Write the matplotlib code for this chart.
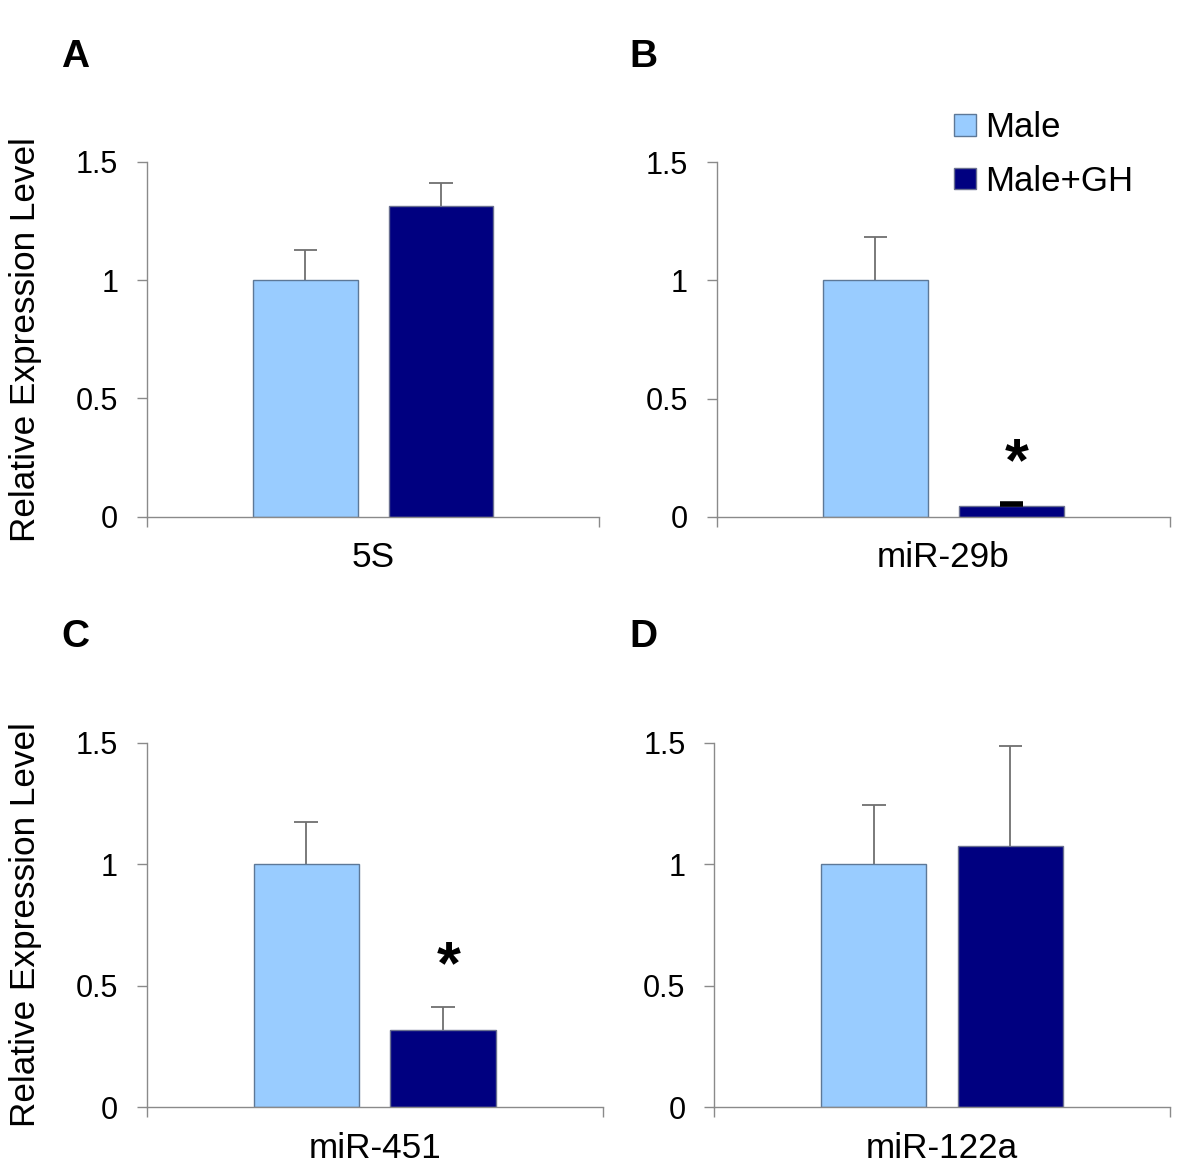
import matplotlib
matplotlib.use("Agg")
import matplotlib.pyplot as plt

plt.rcParams['font.family'] = ['Liberation Sans', 'DejaVu Sans']

# ---- data ----
panel_letters = ['A', 'B', 'C', 'D']
categories = ['5S', 'miR-29b', 'miR-451', 'miR-122a']
series_names = ['Male', 'Male+GH']
male_vals = [1.0, 1.0, 1.0, 1.0]
male_err = [0.127, 0.185, 0.172, 0.242]
gh_vals = [1.314, 0.045, 0.318, 1.074]
gh_err = [0.097, 0.008, 0.093, 0.413]
significant = [False, True, True, False]
yticks = [0, 0.5, 1, 1.5]
ytick_labels = ['0', '0.5', '1', '1.5']
ylabel = 'Relative Expression Level'

# ---- style ----
MALE_C = '#99CCFF'
GH_C = '#000080'
MALE_EDGE = '#5d7897'
GH_EDGE = '#6a7090'
AX_C = '#8a8a8a'
ERR_C = '#707070'

fig = plt.figure(figsize=(12, 11.71), dpi=100)

rects = [
    [0.1225, 0.5588, 0.3769, 0.3031],
    [0.5972, 0.5588, 0.3778, 0.3026],
    [0.1222, 0.0544, 0.3800, 0.3114],
    [0.5952, 0.0544, 0.3797, 0.3114],
]
letter_pos = [(61 / 1200, 1 - 67 / 1171), (629 / 1200, 1 - 67 / 1171),
              (61 / 1200, 1 - 647 / 1171), (629 / 1200, 1 - 647 / 1171)]

xc = 0.5
off = 0.15
bw = 0.231
cap_half = 0.026


def upper_err(ax, x, top, err, color, lw, caplw):
    ax.vlines(x, top, top + err, colors=color, linewidth=lw, zorder=1)
    ax.hlines(top + err, x - cap_half, x + cap_half, colors=color,
              linewidth=caplw, zorder=3)


handles = None
for i, r in enumerate(rects):
    ax = fig.add_axes(r)
    b1 = ax.bar(xc - off, male_vals[i], width=bw, color=MALE_C,
                edgecolor=MALE_EDGE, linewidth=1.0, zorder=2)
    b2 = ax.bar(xc + off, gh_vals[i], width=bw, color=GH_C,
                edgecolor=GH_EDGE, linewidth=1.0, zorder=2)
    if i == 1:
        handles = (b1, b2)
    upper_err(ax, xc - off, male_vals[i], male_err[i], ERR_C, 1.3, 1.3)
    if gh_err[i] < 0.02:
        upper_err(ax, xc + off, gh_vals[i], gh_err[i], 'black', 1.3, 4.0)
    else:
        upper_err(ax, xc + off, gh_vals[i], gh_err[i], ERR_C, 1.3, 1.3)
    if significant[i]:
        ax.text(xc + off + 0.012, gh_vals[i] + gh_err[i] + 0.165, '*',
                ha='center', va='center', fontsize=44, fontweight='bold',
                color='black')

    ax.set_xlim(0, 1)
    ax.set_ylim(0, 1.5)
    for s in ['top', 'right']:
        ax.spines[s].set_visible(False)
    for s in ['left', 'bottom']:
        ax.spines[s].set_color(AX_C)
        ax.spines[s].set_linewidth(1.0)
    ax.set_yticks(yticks)
    ax.set_yticklabels(ytick_labels)
    ax.tick_params(axis='y', length=7.2, width=1.0, color=AX_C, pad=13.5,
                   labelsize=22)
    ax.set_xticks([xc])
    ax.set_xticklabels([categories[i]])
    ax.tick_params(axis='x', which='major', length=0, pad=17.5, labelsize=25.3)
    ax.set_xticks([0, 1], minor=True)
    ax.tick_params(axis='x', which='minor', length=7.2, width=1.0, color=AX_C)

    fig.text(letter_pos[i][0], letter_pos[i][1], panel_letters[i],
             ha='left', va='baseline', fontsize=28, fontweight='bold')

    if i in (0, 2):
        ycen = r[1] + r[3] / 2
        fig.text(9 / 1200, ycen, ylabel, rotation=90, ha='left', va='center',
                 fontsize=25.3)

fig.legend(handles, series_names, loc='upper left',
           bbox_to_anchor=(954 / 1200, 1 - 111 / 1171), frameon=False,
           fontsize=25, borderpad=0, borderaxespad=0, handlelength=0.63,
           handleheight=0.58, handletextpad=0.26, labelspacing=0.6)

fig.savefig('out.png', dpi=100)
